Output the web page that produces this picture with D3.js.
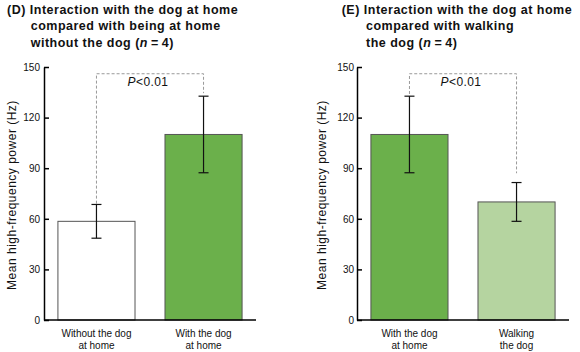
<!DOCTYPE html>
<html>
<head>
<meta charset="utf-8">
<script src="https://cdn.jsdelivr.net/npm/d3@7"></script>
<style>
  body { margin: 0; background: #fff; }
  svg text { font-family: "Liberation Sans", Arial, sans-serif; }
</style>
</head>
<body>
<div id="chart"></div>
<script>
// Panel D data
const categoriesD = ["Without the dog|at home", "With the dog|at home"];
const meansD = [58.5, 110];
const errorsD = [10, 22.7];
const legEndsD = [69, 134.5];
// Panel E data
const categoriesE = ["With the dog|at home", "Walking|the dog"];
const meansE = [110, 70];
const errorsE = [22.7, 11.5];
const legEndsE = [134, 87];

const yTicks = [0, 30, 60, 90, 120, 150];
const bracketTop = 146;
const pLabel = "0.01";

const titleD = ["(D) Interaction with the dog at home", "compared with being at home", "without the dog (n=4)"];
const titleE = ["(E) Interaction with the dog at home", "compared with walking", "the dog (n=4)"];

const darkGreen = "#6bb04b";
const lightGreen = "#b5d4a0";

const svg = d3.select("#chart")
    .append("svg")
    .attr("width", 580)
    .attr("height", 352);

// y scale is shared by both panels
const yScale = d3.scaleLinear().domain([0, 150]).range([320, 67]);

function drawTitle(lines, x0, x1) {
    const g = svg.append("g")
        .style("font-size", "12.5px")
        .style("font-weight", "bold")
        .style("letter-spacing", "0.5px")
        .attr("fill", "#111");
    lines.forEach(function(line, i) {
        const t = g.append("text")
            .attr("x", i === 0 ? x0 : x1)
            .attr("y", 13.5 + i * 16.6);
        // italic n inside "(n=4)"
        const m = line.match(/^(.*\()n(=4\))$/);
        if (m) {
            t.append("tspan").text(m[1]);
            t.append("tspan").style("font-style", "italic").text("n");
            t.append("tspan").text(m[2].replace("=", " = ").replace(" = ", "\u2009=\u2009"));
        } else {
            t.text(line);
        }
    });
}

function drawPanel(cfg) {
    const g = svg.append("g");

    const xScale = d3.scaleBand()
        .domain(cfg.categories)
        .range([cfg.axisX, cfg.axisX + 212])
        .paddingInner(0.28)
        .paddingOuter(0.13);

    // bars
    g.selectAll(".bar")
        .data(cfg.means)
        .join("rect")
        .attr("class", "bar")
        .attr("x", (d, i) => xScale(cfg.categories[i]))
        .attr("y", d => yScale(d))
        .attr("width", xScale.bandwidth())
        .attr("height", d => yScale(0) - yScale(d))
        .attr("fill", (d, i) => cfg.colors[i])
        .attr("stroke", "#555")
        .attr("stroke-width", 1);

    const cx = i => xScale(cfg.categories[i]) + xScale.bandwidth() / 2;

    // significance bracket
    const bracket = d3.line()
        .x(d => d[0])
        .y(d => yScale(d[1]));
    g.append("path")
        .attr("d", bracket([
            [cx(0), cfg.legEnds[0]],
            [cx(0), bracketTop],
            [cx(1), bracketTop],
            [cx(1), cfg.legEnds[1]]
        ]))
        .attr("fill", "none")
        .attr("stroke", "#999")
        .attr("stroke-width", 1)
        .attr("stroke-dasharray", "3,2");

    const pText = g.append("text")
        .attr("x", (cx(0) + cx(1)) / 2 - 2)
        .attr("y", yScale(bracketTop) + 12)
        .attr("text-anchor", "middle")
        .style("font-size", "12px")
        .style("letter-spacing", "0.4px")
        .attr("fill", "#111");
    pText.append("tspan").style("font-style", "italic").text("P");
    pText.append("tspan").text("<" + pLabel);

    // error bars
    const eb = g.selectAll(".err")
        .data(cfg.means)
        .join("g")
        .attr("class", "err")
        .attr("stroke", "#111")
        .attr("stroke-width", 1.2);
    eb.append("line")
        .attr("x1", (d, i) => cx(i)).attr("x2", (d, i) => cx(i))
        .attr("y1", (d, i) => yScale(d + cfg.errors[i]))
        .attr("y2", (d, i) => yScale(d - cfg.errors[i]));
    eb.append("line")
        .attr("x1", (d, i) => cx(i) - 5).attr("x2", (d, i) => cx(i) + 5)
        .attr("y1", (d, i) => yScale(d + cfg.errors[i]))
        .attr("y2", (d, i) => yScale(d + cfg.errors[i]));
    eb.append("line")
        .attr("x1", (d, i) => cx(i) - 5).attr("x2", (d, i) => cx(i) + 5)
        .attr("y1", (d, i) => yScale(d - cfg.errors[i]))
        .attr("y2", (d, i) => yScale(d - cfg.errors[i]));

    // y axis, ticks pointing inward
    const yAxis = g.append("g")
        .attr("transform", `translate(${cfg.axisX},0)`)
        .call(d3.axisLeft(yScale).tickValues(yTicks).tickSizeInner(-5).tickSizeOuter(0).tickPadding(cfg.tickPad));
    yAxis.select(".domain").attr("stroke", "#000").attr("stroke-width", 1.5);
    yAxis.selectAll(".tick line").attr("stroke", "#000").attr("stroke-width", 1.5);
    yAxis.selectAll(".tick text")
        .style("font-size", "10px")
        .style("font-family", "'Liberation Sans', Arial, sans-serif")
        .attr("fill", "#111");

    // x axis line
    g.append("line")
        .attr("x1", cfg.axisX).attr("x2", cfg.axisX + 212)
        .attr("y1", yScale(0)).attr("y2", yScale(0))
        .attr("stroke", "#000")
        .attr("stroke-width", 1.5);

    // category labels
    cfg.categories.forEach(function(c, i) {
        const t = g.append("text")
            .attr("text-anchor", "middle")
            .style("font-size", "10px")
            .attr("fill", "#111");
        c.split("|").forEach(function(part, j) {
            t.append("tspan")
                .attr("x", cx(i))
                .attr("y", 336.5 + j * 12.8)
                .text(part);
        });
    });

    // y axis label
    g.append("text")
        .attr("transform", `translate(${cfg.labelX},195) rotate(-90)`)
        .attr("text-anchor", "middle")
        .style("font-size", "12px")
        .style("letter-spacing", "0.5px")
        .attr("fill", "#111")
        .text("Mean high-frequency power (Hz)");
}

drawTitle(titleD, 7, 30.7);
drawTitle(titleE, 341.7, 366);

drawPanel({
    categories: categoriesD,
    means: meansD,
    errors: errorsD,
    legEnds: legEndsD,
    colors: ["#ffffff", darkGreen],
    axisX: 44,
    tickPad: 4,
    labelX: 15.5
});

drawPanel({
    categories: categoriesE,
    means: meansE,
    errors: errorsE,
    legEnds: legEndsE,
    colors: [darkGreen, lightGreen],
    axisX: 357,
    tickPad: 3,
    labelX: 325.5
});
</script>
</body>
</html>
